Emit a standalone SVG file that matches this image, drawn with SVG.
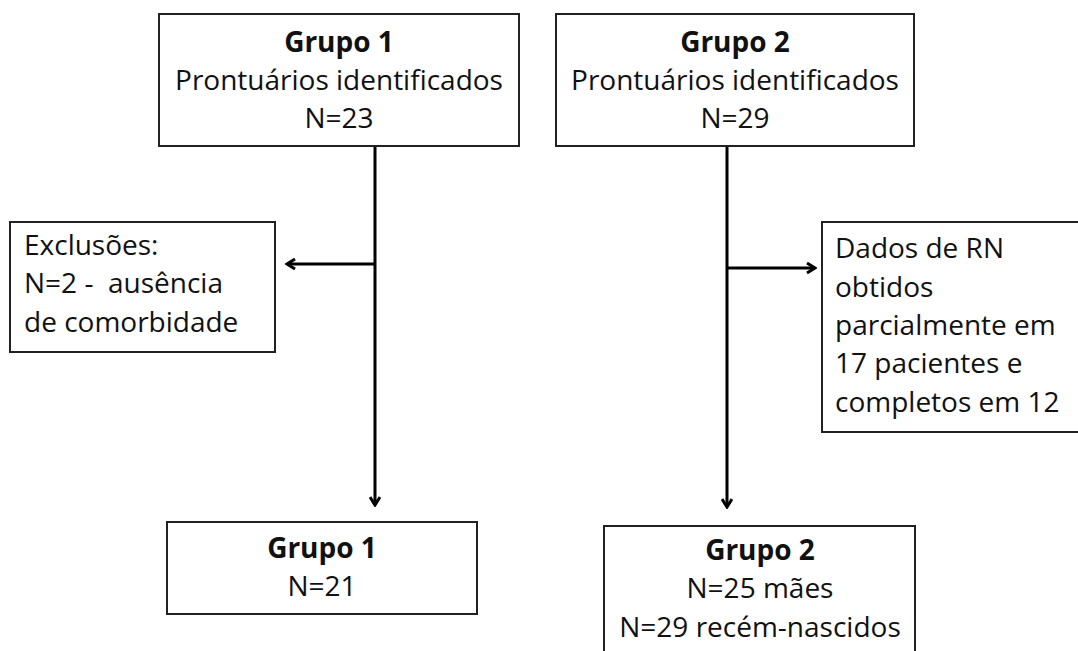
<svg xmlns="http://www.w3.org/2000/svg" width="1078" height="651" viewBox="0 0 1078 651">
<style>
.box{fill:#fff;stroke:#222;stroke-width:2}
.t{font-family:"Open Sans","Liberation Sans",Arial,sans-serif;font-size:28px;fill:#111}
.c{text-anchor:middle}
.b{font-weight:bold}
.ln{stroke:#000;stroke-width:3;fill:none}
</style>
<defs>
<marker id="ah" viewBox="0 0 12 12" refX="10" refY="6" markerWidth="12" markerHeight="12" markerUnits="userSpaceOnUse" orient="auto">
<polyline points="2,1 10,6 2,11" fill="none" stroke="#000" stroke-width="3"/>
</marker>
</defs>
<rect width="1078" height="651" fill="#fff"/>
<g id="connectors">
<line class="ln" x1="375" y1="146" x2="375" y2="505" marker-end="url(#ah)"/>
<line class="ln" x1="375" y1="264" x2="287" y2="264" marker-end="url(#ah)"/>
<line class="ln" x1="727" y1="146" x2="727" y2="507" marker-end="url(#ah)"/>
<line class="ln" x1="727" y1="268" x2="815" y2="268" marker-end="url(#ah)"/>
</g>
<g id="g1top">
<rect class="box" x="159" y="14" width="360" height="132"/>
<text class="t c b" x="339" y="52">Grupo 1</text>
<text class="t c" x="339" y="90">Prontuários identificados</text>
<text class="t c" x="339" y="128">N=23</text>
</g>
<g id="g2top">
<rect class="box" x="556" y="14" width="358" height="132"/>
<text class="t c b" x="735" y="52">Grupo 2</text>
<text class="t c" x="735" y="90">Prontuários identificados</text>
<text class="t c" x="735" y="128">N=29</text>
</g>
<g id="excl">
<rect class="box" x="10" y="222" width="265" height="130"/>
<text class="t" x="24" y="255">Exclusões:</text>
<text class="t" x="24" y="293" xml:space="preserve">N=2 -  ausência</text>
<text class="t" x="24" y="332">de comorbidade</text>
</g>
<g id="rn">
<rect class="box" x="822" y="222" width="270" height="210"/>
<text class="t" x="835" y="258">Dados de RN</text>
<text class="t" x="835" y="297">obtidos</text>
<text class="t" x="835" y="335">parcialmente em</text>
<text class="t" x="835" y="373">17 pacientes e</text>
<text class="t" x="835" y="412">completos em 12</text>
</g>
<g id="g1bot">
<rect class="box" x="167" y="522" width="310" height="92"/>
<text class="t c b" x="322" y="558">Grupo 1</text>
<text class="t c" x="322" y="596">N=21</text>
</g>
<g id="g2bot">
<rect class="box" x="604" y="526" width="311" height="140"/>
<text class="t c b" x="760" y="560">Grupo 2</text>
<text class="t c" x="760" y="598">N=25 mães</text>
<text class="t c" x="760" y="637">N=29 recém-nascidos</text>
</g>
</svg>
